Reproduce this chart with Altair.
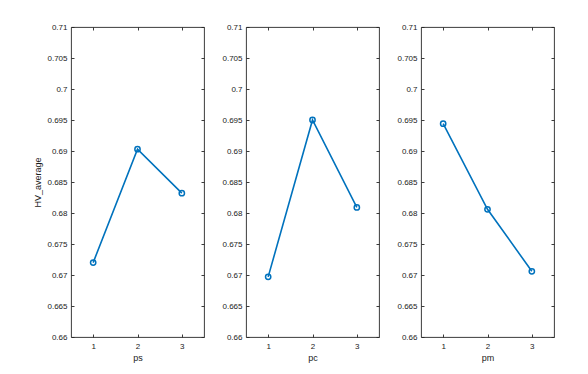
import altair as alt
import pandas as pd

levels = [1, 2, 3]
param_names = ["ps", "pc", "pm"]
ps_vals = [0.6720, 0.6903, 0.6832]
pc_vals = [0.6697, 0.6950, 0.6809]
pm_vals = [0.6944, 0.6806, 0.6706]
series = [ps_vals, pc_vals, pm_vals]
y_ticks = [0.66, 0.665, 0.67, 0.675, 0.68, 0.685, 0.69, 0.695, 0.70, 0.705, 0.71]
x_ticks = [1, 2, 3]
y_title = "HV_average"

W, H = 133, 310
BLUE = "#0072BD"
INK = "#262626"
FONT = "Liberation Sans"


def panel(name, vals, show_title):
    df = pd.DataFrame({"level": levels, "value": vals})
    xs = alt.Scale(domain=[0.5, 3.5], nice=False, zero=False)
    ys = alt.Scale(domain=[0.66, 0.71], nice=False, zero=False)

    ykw = dict(orient="left", values=y_ticks, format="~g", ticks=False,
               domain=False, grid=False, labelPadding=4, titlePadding=4)
    ykw["title"] = y_title if show_title else None

    main = alt.Chart(df).mark_line(
        color=BLUE, strokeWidth=1.6,
        point=alt.OverlayMarkDef(filled=False, size=28, strokeWidth=1.5, color=BLUE),
    ).encode(
        x=alt.X("level:Q", scale=xs,
                axis=alt.Axis(orient="bottom", values=x_ticks, format="d", title=name,
                              ticks=False, domain=False, grid=False,
                              labelPadding=5, titlePadding=3)),
        y=alt.Y("value:Q", scale=ys, axis=alt.Axis(**ykw)),
    )

    tick_kw = dict(labels=False, domain=False, grid=False, ticks=True,
                   tickSize=3, tickColor=INK, tickWidth=0.9, title=None)

    t_a = alt.Chart(df).mark_point(opacity=0).encode(
        x=alt.X("level:Q", scale=xs,
                axis=alt.Axis(orient="top", offset=-H, values=x_ticks, **tick_kw)),
        y=alt.Y("value:Q", scale=ys,
                axis=alt.Axis(orient="right", offset=-W, values=y_ticks, **tick_kw)),
    )
    t_b = alt.Chart(df).mark_point(opacity=0).encode(
        x=alt.X("level:Q", scale=xs,
                axis=alt.Axis(orient="bottom", offset=-H, values=x_ticks, **tick_kw)),
        y=alt.Y("value:Q", scale=ys,
                axis=alt.Axis(orient="left", offset=-W, values=y_ticks, **tick_kw)),
    )
    return alt.layer(main, t_a, t_b).resolve_scale(
        x="independent", y="independent"
    ).properties(width=W, height=H)


charts = [panel(n, v, i == 0) for i, (n, v) in enumerate(zip(param_names, series))]

chart = alt.hconcat(*charts, spacing=16).properties(
    padding={"left": 25, "top": 14, "right": 5, "bottom": 5},
    background="white",
).configure_view(
    stroke=INK, strokeWidth=0.9
).configure_axis(
    labelFont=FONT, labelFontSize=8, labelColor="#1a1a1a",
    titleFont=FONT, titleFontSize=9, titleColor="#1a1a1a", titleFontWeight="normal",
)

chart.save("out.html", embed_options={"renderer": "svg", "actions": False})
